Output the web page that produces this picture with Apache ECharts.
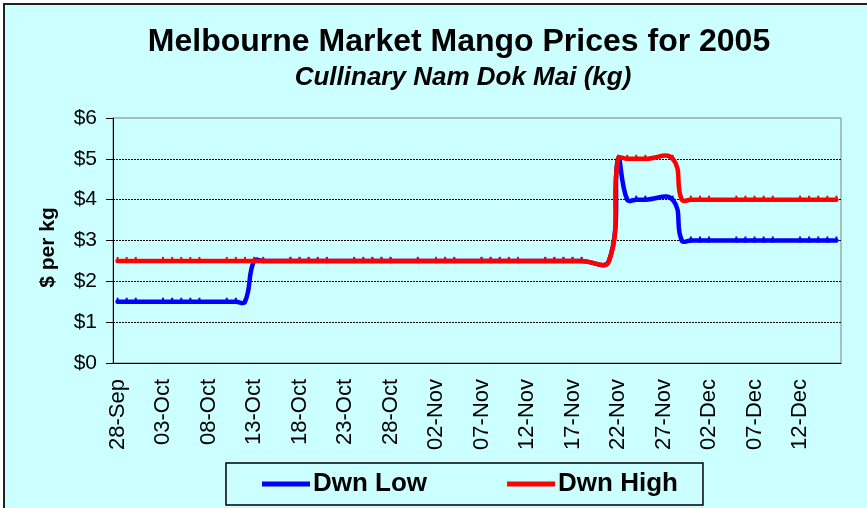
<!DOCTYPE html>
<html>
<head>
<meta charset="utf-8">
<script src="https://cdn.jsdelivr.net/npm/echarts@6/dist/echarts.min.js"></script>
<style>
  html, body { margin: 0; padding: 0; background: #fff; }
  #frame { position: absolute; left: 3px; top: 3px; width: 900px; height: 600px;
           background: #ccffff; border-left: 2px solid #222; border-top: 2px solid #222; }
  #chart { position: absolute; left: 0; top: 0; width: 867px; height: 508px; }
</style>
</head>
<body>
<div id="frame"></div>
<div id="chart"></div>
<script>
// day axis: 28-Sep-2005 .. 16-Dec-2005, one slot per calendar day
const monthNames = ["Jan","Feb","Mar","Apr","May","Jun","Jul","Aug","Sep","Oct","Nov","Dec"];
const axisStart = Date.UTC(2005, 8, 28);
const axisDays = 80;
const days = [];
for (let i = 0; i < axisDays; i++) {
  const d = new Date(axisStart + i * 86400000);
  days.push(String(d.getUTCDate()).padStart(2, "0") + "-" + monthNames[d.getUTCMonth()]);
}

// trading days (market days only)
const tradeDates = [
  "28-Sep","29-Sep","30-Sep",
  "03-Oct","04-Oct","05-Oct","06-Oct","07-Oct",
  "10-Oct","11-Oct","12-Oct","13-Oct","14-Oct",
  "17-Oct","18-Oct","19-Oct","20-Oct","21-Oct",
  "24-Oct","25-Oct","26-Oct","27-Oct","28-Oct",
  "31-Oct","02-Nov","03-Nov","04-Nov",
  "07-Nov","08-Nov","09-Nov","10-Nov","11-Nov",
  "14-Nov","15-Nov","16-Nov","17-Nov","18-Nov",
  "21-Nov","22-Nov","23-Nov","24-Nov","25-Nov",
  "28-Nov","29-Nov","30-Nov","01-Dec","02-Dec",
  "05-Dec","06-Dec","07-Dec","08-Dec","09-Dec",
  "12-Dec","13-Dec","14-Dec","15-Dec","16-Dec"
];
const dwnLow = [
  1.5, 1.5, 1.5,
  1.5, 1.5, 1.5, 1.5, 1.5,
  1.5, 1.5, 1.5, 2.5, 2.5,
  2.5, 2.5, 2.5, 2.5, 2.5,
  2.5, 2.5, 2.5, 2.5, 2.5,
  2.5, 2.5, 2.5, 2.5,
  2.5, 2.5, 2.5, 2.5, 2.5,
  2.5, 2.5, 2.5, 2.5, 2.5,
  2.5, 5.0, 4.0, 4.0, 4.0,
  4.0, 3.0, 3.0, 3.0, 3.0,
  3.0, 3.0, 3.0, 3.0, 3.0,
  3.0, 3.0, 3.0, 3.0, 3.0
];
const dwnHigh = [
  2.5, 2.5, 2.5,
  2.5, 2.5, 2.5, 2.5, 2.5,
  2.5, 2.5, 2.5, 2.5, 2.5,
  2.5, 2.5, 2.5, 2.5, 2.5,
  2.5, 2.5, 2.5, 2.5, 2.5,
  2.5, 2.5, 2.5, 2.5,
  2.5, 2.5, 2.5, 2.5, 2.5,
  2.5, 2.5, 2.5, 2.5, 2.5,
  2.5, 5.0, 5.0, 5.0, 5.0,
  5.0, 4.0, 4.0, 4.0, 4.0,
  4.0, 4.0, 4.0, 4.0, 4.0,
  4.0, 4.0, 4.0, 4.0, 4.0
];
const seriesList = [
  { name: "Dwn Low", values: dwnLow, color: "#0000ff" },
  { name: "Dwn High", values: dwnHigh, color: "#ff0000" }
];

const font = "'Liberation Sans', Arial, sans-serif";
const SMOOTH = 0.45;

// Excel-like smoothed line: bezier segments whose control points are not clamped,
// so the curve dips / overshoots a little around the steps
function makeRenderer(values, color) {
  return function (params, api) {
    const n = values.length;
    const pts = tradeDates.map((d, j) => api.coord([days.indexOf(d), values[j]]));
    const ctrl = (j) => {
      const p = pts[j], a = pts[Math.max(j - 1, 0)], b = pts[Math.min(j + 1, n - 1)];
      const vx = b[0] - a[0], vy = b[1] - a[1];
      const l0 = Math.hypot(p[0] - a[0], p[1] - a[1]);
      const l1 = Math.hypot(b[0] - p[0], b[1] - p[1]);
      const r = l0 + l1 > 0 ? l1 / (l0 + l1) : 0.5;
      return {
        inn: [p[0] - vx * SMOOTH * (1 - r), p[1] - vy * SMOOTH * (1 - r)],
        out: [p[0] + vx * SMOOTH * r, p[1] + vy * SMOOTH * r]
      };
    };
    const i = params.dataIndex;
    const p = pts[i];
    const children = [];
    if (i < n - 1) {
      const q = pts[i + 1];
      const c0 = ctrl(i).out, c1 = ctrl(i + 1).inn;
      children.push({
        type: "bezierCurve",
        shape: { x1: p[0], y1: p[1], cpx1: c0[0], cpy1: c0[1], cpx2: c1[0], cpy2: c1[1], x2: q[0], y2: q[1] },
        style: { stroke: color, lineWidth: 4.5, fill: null, lineCap: "round" }
      });
    }
    children.push({
      type: "rect",
      shape: { x: p[0] - 1, y: p[1] - 4, width: 2, height: 5 },
      style: { fill: color }
    });
    return { type: "group", children: children };
  };
}

const myChart = echarts.init(document.getElementById("chart"));
const option = {
  animation: false,
  title: [
    {
      text: "Melbourne Market Mango Prices for 2005",
      left: 454, top: 21, textAlign: "center",
      textStyle: { fontFamily: font, fontSize: 32, fontWeight: "bold", color: "#000" }
    },
    {
      text: "Cullinary Nam Dok Mai (kg)",
      left: 458, top: 60, textAlign: "center",
      textStyle: { fontFamily: font, fontSize: 26, fontWeight: "bold", fontStyle: "italic", color: "#000" }
    }
  ],
  grid: {
    left: 113, right: 26, top: 118, bottom: 145,
    show: true, borderColor: "#808080", borderWidth: 1, backgroundColor: "transparent"
  },
  legend: {
    left: 226, top: 463,
    padding: [8, 25, 8, 36],
    itemGap: 80,
    itemWidth: 48, itemHeight: 5,
    icon: "rect",
    borderColor: "#000", borderWidth: 1.5,
    textStyle: { fontFamily: font, fontSize: 26, fontWeight: "bold", color: "#000", padding: [0, 0, 0, -2] },
    data: seriesList.map(s => s.name)
  },
  xAxis: {
    type: "category",
    data: days,
    boundaryGap: true,
    axisLine: { lineStyle: { color: "#000", width: 1 } },
    axisTick: { interval: 4, length: 6, lineStyle: { color: "#000" } },
    axisLabel: { interval: 4, rotate: 90, margin: 16, color: "#000", fontFamily: font, fontSize: 22 },
    splitLine: { show: false }
  },
  yAxis: {
    type: "value",
    min: 0, max: 6, interval: 1,
    name: "$ per kg",
    nameLocation: "middle",
    nameGap: 54,
    nameTextStyle: { fontFamily: font, fontSize: 21, fontWeight: "bold", color: "#000", padding: [0, 14, 0, 0] },
    axisLine: { show: true, lineStyle: { color: "#000", width: 1 } },
    axisTick: { show: true, length: 7, lineStyle: { color: "#000" } },
    axisLabel: { margin: 16, color: "#000", fontFamily: font, fontSize: 21, formatter: v => "$" + v },
    splitLine: { show: true, showMinLine: false, showMaxLine: false, lineStyle: { color: "#000", type: [2, 1], width: 1 } }
  },
  series: seriesList.map(s => ({
    name: s.name,
    type: "custom",
    coordinateSystem: "cartesian2d",
    data: tradeDates.map((d, i) => [days.indexOf(d), s.values[i]]),
    encode: { x: 0, y: 1 },
    itemStyle: { color: s.color },
    renderItem: makeRenderer(s.values, s.color)
  }))
};
myChart.setOption(option);
</script>
</body>
</html>
